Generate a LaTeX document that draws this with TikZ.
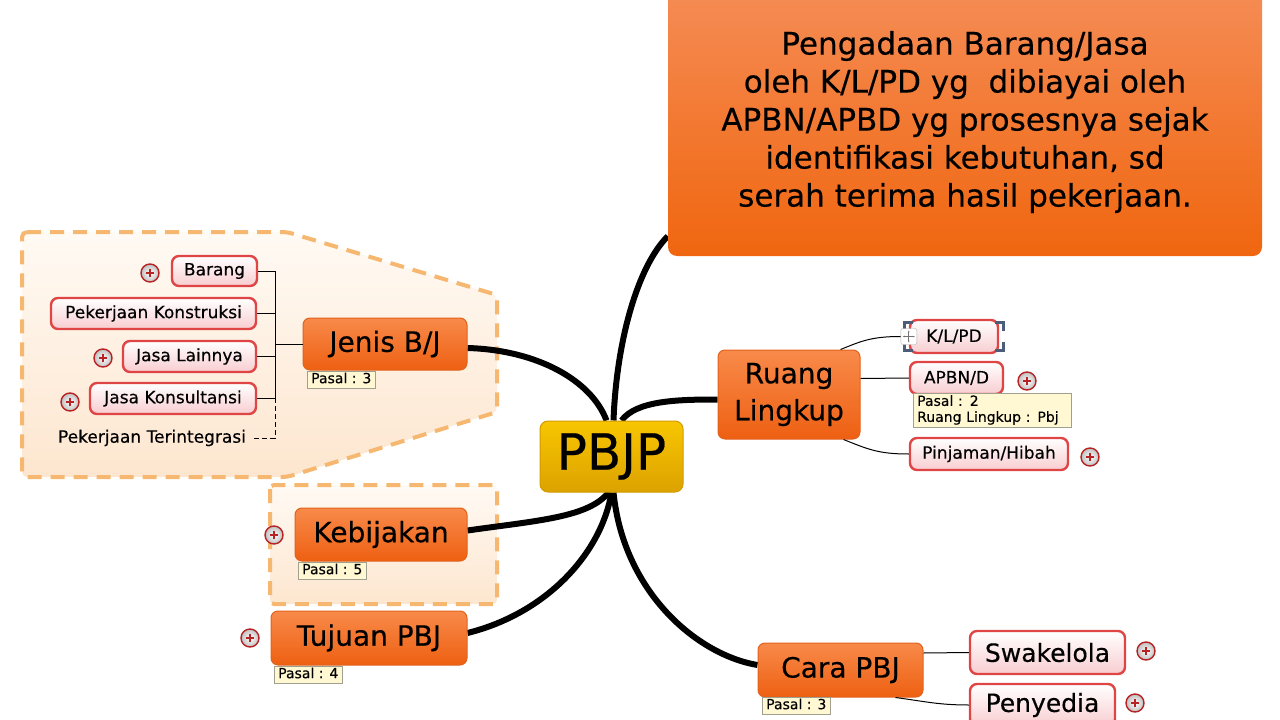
\documentclass[tikz,border=0pt]{standalone}
\usepackage{fontspec}
\setmainfont{DejaVu Sans}[FakeBold=0.35]
\usepackage{tikz}
\usetikzlibrary{arrows.meta,backgrounds,calc,positioning}
\definecolor{topictop}{HTML}{F88A4A}
\definecolor{topicbot}{HTML}{EE6012}
\definecolor{topicline}{HTML}{E2621C}
\definecolor{bigtop}{HTML}{F58C55}
\definecolor{bigbot}{HTML}{F0660F}
\definecolor{centertop}{HTML}{F8C600}
\definecolor{centerbot}{HTML}{DCA200}
\definecolor{centerline}{HTML}{D39A00}
\definecolor{subline}{HTML}{E04545}
\definecolor{subbot}{HTML}{F8CDD0}
\definecolor{noteline}{HTML}{A0A090}
\definecolor{notefill}{HTML}{FFF8D2}
\definecolor{plusred}{HTML}{B82222}
\definecolor{boundline}{HTML}{F6B870}
\definecolor{boundtop}{HTML}{FFFAF4}
\definecolor{boundbot}{HTML}{FDE6CF}
\definecolor{selmark}{HTML}{4C5D7C}
\tikzset{
  topic/.style={rounded corners=7pt, draw=topicline, line width=1pt, top color=topictop, bottom color=topicbot, font=\fontsize{28}{37}\selectfont, align=center, inner sep=2pt},
  bigtopic/.style={rounded corners=9pt, top color=bigtop, bottom color=bigbot, font=\fontsize{31}{38}\selectfont, align=center, inner sep=0pt},
  centertopic/.style={rounded corners=8pt, draw=centerline, line width=1pt, top color=centertop, bottom color=centerbot, font=\fontsize{50}{50}\selectfont, inner sep=0pt},
  subtopic/.style={rounded corners=7pt, draw=subline, line width=2.4pt, top color=white, bottom color=subbot, font=\fontsize{17}{20}\selectfont, inner sep=2pt},
  note/.style={draw=noteline, fill=notefill, font=\fontsize{14}{16}\selectfont, align=left, inner xsep=4pt, inner ysep=2pt, anchor=north west},
  pasal/.style={note, text height=10pt, text depth=3pt},
  plusicon/.style={circle, draw=plusred, line width=1.4pt, inner sep=0pt, minimum size=18pt, inner color=white, outer color=black!25,
    path picture={\draw[plusred, line width=1.8pt] ([xshift=-4pt]path picture bounding box.center) -- ([xshift=4pt]path picture bounding box.center) ([yshift=-4pt]path picture bounding box.center) -- ([yshift=4pt]path picture bounding box.center);}},
  moveicon/.style={rounded corners=2pt, draw=black!30, fill=white, minimum size=16pt, inner sep=0pt,
    path picture={\draw[black!55, line width=0.7pt, {Stealth[length=2pt]}-{Stealth[length=2pt]}] ([xshift=-6pt]path picture bounding box.center) -- ([xshift=6pt]path picture bounding box.center);
      \draw[black!55, line width=0.7pt, {Stealth[length=2pt]}-{Stealth[length=2pt]}] ([yshift=-6pt]path picture bounding box.center) -- ([yshift=6pt]path picture bounding box.center);}},
  selmark/.style={draw=selmark, line width=3pt},
  branch/.style={line width=6pt, black},
  twig/.style={line width=1pt, black},
  boundary/.style={draw=boundline, line width=4pt, dash pattern=on 14pt off 9pt, top color=boundtop, bottom color=boundbot},
}
\begin{document}
\begin{tikzpicture}[x=1pt,y=-1pt]
\useasboundingbox (0,0) rectangle (1280,720);
\node[bigtopic, minimum width=594pt, minimum height=268pt] (defbox) at (965,122) {Pengadaan Barang/Jasa\\oleh K/L/PD yg\ \ dibiayai oleh\\APBN/APBD yg prosesnya sejak\\identifikasi kebutuhan, sd\\serah terima hasil pekerjaan.};
\node[centertopic, minimum width=143pt, minimum height=71pt] (pbjp) at (611.5,456.5) {PBJP};
\node[topic, minimum width=164pt, minimum height=52pt] (jenis) at (385,344) {Jenis B/J};
\node[topic, minimum width=172pt, minimum height=53pt] (kebijakan) at (381,534.5) {Kebijakan};
\node[topic, minimum width=196pt, minimum height=54pt] (tujuan) at (369,638) {Tujuan PBJ};
\node[topic, minimum width=142pt, minimum height=89pt] (ruang) at (789,394.5) {Ruang\\Lingkup};
\node[topic, minimum width=165pt, minimum height=54pt] (cara) at (840.5,670) {Cara PBJ};
\node[pasal] (njenis) at (307,371) {Pasal : 3};
\node[pasal] (nkebijakan) at (298,562) {Pasal : 5};
\node[pasal] (ntujuan) at (274,666) {Pasal : 4};
\node[pasal] (ncara) at (762,697) {Pasal : 3};
\node[subtopic, minimum width=85pt, minimum height=30pt] (barang) at (214.5,271) {Barang};
\node[subtopic, minimum width=205pt, minimum height=31pt] (konstruksi) at (153.5,313.5) {Pekerjaan Konstruksi};
\node[subtopic, minimum width=133pt, minimum height=31pt] (lainnya) at (189.5,356.5) {Jasa Lainnya};
\node[subtopic, minimum width=166pt, minimum height=31pt] (konsul) at (173,398.5) {Jasa Konsultansi};
\node[font=\fontsize{17}{20}\selectfont, inner sep=2pt] (terint) at (152,438) {Pekerjaan Terintegrasi};
\node[subtopic, minimum width=88pt, minimum height=33pt] (klpd) at (954,336.5) {K/L/PD};
\node[subtopic, minimum width=93pt, minimum height=32pt] (apbn) at (956.5,378) {APBN/D};
\node[note, text width=150pt] (nruang) at (913,393) {Pasal : 2\\Ruang Lingkup : Pbj};
\node[subtopic, minimum width=158pt, minimum height=32pt] (pinjaman) at (989,454) {Pinjaman/Hibah};
\node[subtopic, minimum width=155pt, minimum height=43pt, font=\fontsize{25}{28}\selectfont] (swakelola) at (1047.5,652.5) {Swakelola};
\node[subtopic, minimum width=145pt, minimum height=42pt, font=\fontsize{25}{28}\selectfont] (penyedia) at (1042.5,705) {Penyedia};
\node[plusicon] (pbarang) at (150,273) {};
\node[plusicon] (plainnya) at (103,358) {};
\node[plusicon] (pkonsul) at (70,402) {};
\node[plusicon] (pkebijakan) at (274,535) {};
\node[plusicon] (ptujuan) at (250,638) {};
\node[plusicon] (papbn) at (1027,381) {};
\node[plusicon] (ppinjaman) at (1090,457) {};
\node[plusicon] (pswakelola) at (1146,651) {};
\node[plusicon] (ppenyedia) at (1135,703) {};
\draw[selmark] ([shift={(-4pt,-4pt)}]klpd.north west) ++(0,8) -- ++(0,-8) -- ++(8,0);
\draw[selmark] ([shift={(4pt,-4pt)}]klpd.north east) ++(0,8) -- ++(0,-8) -- ++(-8,0);
\draw[selmark] ([shift={(-4pt,4pt)}]klpd.south west) ++(0,-8) -- ++(0,8) -- ++(8,0);
\draw[selmark] ([shift={(4pt,4pt)}]klpd.south east) ++(0,-8) -- ++(0,8) -- ++(-8,0);
\node[moveicon] (move) at (klpd.west) {};
\coordinate (jtrunk) at (275,344);
\draw[twig] (barang.east) -| (jtrunk);
\draw[twig] (konstruksi.east) -| (jtrunk);
\draw[twig] (lainnya.east) -| (jtrunk);
\draw[twig] (konsul.east) -| (jtrunk);
\draw[twig] (jtrunk) -- (jenis.west);
\draw[twig, dash pattern=on 5pt off 3pt] ([xshift=6pt]terint.east) -- (terint.east -| jtrunk) -- (konsul.east -| jtrunk);
\draw[twig] ([xshift=-20pt]ruang.north east) .. controls +(20,-8) and +(-30,0) .. (move.west);
\draw[twig] ([yshift=16pt]ruang.east) -- (apbn.west);
\draw[twig] ([xshift=-17pt]ruang.south east) .. controls +(25,10) and +(-30,0) .. (pinjaman.west);
\draw[twig] ([yshift=17pt]cara.east) -- (swakelola.west);
\draw[twig] ([xshift=-28pt]cara.south east) .. controls +(30,4) and +(-30,0) .. (penyedia.west);
\begin{scope}[on background layer]
\draw[boundary, rounded corners=5pt] (22,232) -- (287,232) -- (497,295) -- (497,412) -- (287,477) -- (22,477) -- cycle;
\draw[boundary, rounded corners=4pt] (270,485) rectangle (497,604);
\draw[branch] ([yshift=-4pt]jenis.east) .. controls +(70,2) and +(-15,-40) .. ([xshift=-5pt]pbjp.north);
\draw[branch] ([xshift=2pt]pbjp.north) .. controls +(3,-80) and +(-30,30) .. ([yshift=20pt]defbox.south west);
\draw[branch] ([xshift=10pt]pbjp.north) .. controls +(15,-20) and +(-40,0) .. ([yshift=-5pt]ruang.west);
\draw[branch] ([yshift=4pt]kebijakan.east) .. controls +(70,-10) and +(-20,25) .. ([xshift=-3pt]pbjp.south);
\draw[branch] ([yshift=5pt]tujuan.east) .. controls +(80,-20) and +(-10,60) .. (pbjp.south);
\draw[branch] ([xshift=2pt]pbjp.south) .. controls +(10,100) and +(-60,-10) .. ([yshift=5pt]cara.west);
\end{scope}
\end{tikzpicture}
\end{document}
